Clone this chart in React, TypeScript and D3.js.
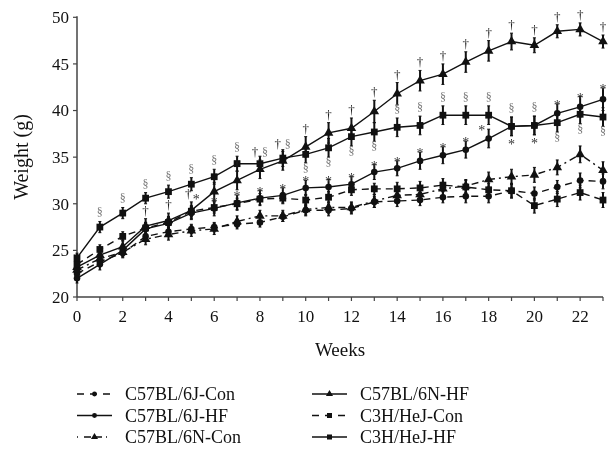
import * as d3 from "d3";

const weeks = d3.range(0, 24);

// mean body weight (g) per week
const b6jCon = [22.5, 23.8, 24.7, 26.5, 27.0, 27.3, 27.5, 27.8, 28.0, 28.6, 29.3, 29.3, 29.5, 30.2, 30.3, 30.4, 30.7, 30.8, 30.8, 31.4, 31.1, 31.8, 32.5, 32.4];
const b6jHF = [22.0, 23.5, 25.0, 27.3, 27.9, 29.0, 29.5, 30.1, 30.6, 30.9, 31.7, 31.8, 32.1, 33.4, 33.8, 34.6, 35.2, 35.8, 37.0, 38.3, 38.4, 39.7, 40.4, 41.2];
const b6nCon = [22.9, 24.1, 24.8, 26.2, 26.7, 27.1, 27.3, 28.1, 28.7, 28.7, 29.4, 29.6, 29.6, 30.3, 30.9, 31.0, 31.6, 31.9, 32.6, 32.9, 33.1, 33.9, 35.3, 33.6];
const b6nHF = [23.2, 24.5, 25.4, 27.6, 28.2, 29.3, 31.3, 32.5, 33.7, 34.6, 36.1, 37.6, 38.1, 39.9, 41.8, 43.2, 43.9, 45.2, 46.4, 47.4, 47.0, 48.5, 48.7, 47.4];
const c3hCon = [23.5, 25.1, 26.5, 27.4, 28.0, 29.2, 29.6, 30.0, 30.5, 30.6, 30.4, 30.7, 31.5, 31.6, 31.6, 31.7, 32.0, 31.8, 31.5, 31.4, 29.8, 30.5, 31.2, 30.4];
const c3hHF = [24.2, 27.5, 29.0, 30.6, 31.3, 32.1, 32.9, 34.3, 34.3, 34.9, 35.3, 36.0, 37.2, 37.7, 38.2, 38.4, 39.5, 39.5, 39.5, 38.3, 38.4, 38.7, 39.6, 39.3];

// error (SEM, g)
const b6jConErr = [0.5, 0.5, 0.5, 0.5, 0.5, 0.5, 0.5, 0.5, 0.5, 0.5, 0.6, 0.6, 0.6, 0.6, 0.6, 0.6, 0.6, 0.7, 0.7, 0.7, 0.7, 0.7, 0.8, 0.8];
const b6jHFErr = [0.5, 0.6, 0.6, 0.7, 0.7, 0.7, 0.8, 0.8, 0.8, 0.8, 0.8, 0.8, 0.8, 0.8, 0.8, 0.9, 0.9, 0.9, 1.0, 1.0, 1.0, 1.0, 1.1, 1.2];
const b6nConErr = [0.5, 0.5, 0.5, 0.6, 0.6, 0.6, 0.6, 0.6, 0.6, 0.6, 0.6, 0.6, 0.6, 0.7, 0.7, 0.7, 0.7, 0.7, 0.8, 0.8, 0.8, 0.8, 0.9, 0.9];
const b6nHFErr = [0.5, 0.6, 0.7, 0.8, 0.8, 0.9, 1.0, 1.0, 1.0, 1.0, 1.1, 1.1, 1.1, 1.2, 1.2, 1.1, 1.1, 1.1, 1.1, 0.9, 0.8, 0.7, 0.7, 0.7];
const c3hConErr = [0.5, 0.5, 0.5, 0.6, 0.6, 0.6, 0.6, 0.6, 0.6, 0.6, 0.6, 0.6, 0.6, 0.6, 0.7, 0.7, 0.7, 0.7, 0.7, 0.8, 0.8, 0.8, 0.8, 0.8];
const c3hHFErr = [0.5, 0.6, 0.6, 0.6, 0.7, 0.7, 0.8, 0.8, 0.8, 0.9, 0.9, 1.0, 1.0, 1.0, 1.0, 1.0, 1.0, 1.0, 1.0, 1.0, 1.0, 1.0, 1.0, 1.0];

const seriesNames = ["C57BL/6J-Con", "C57BL/6J-HF", "C57BL/6N-Con", "C57BL/6N-HF", "C3H/HeJ-Con", "C3H/HeJ-HF"];

// significance marks
const daggerWeeks = [3, 4, 5, 7, 8, 9, 10, 11, 12, 13, 14, 15, 16, 17, 18, 19, 20, 21, 22, 23]; // above 6N-HF
const sectionAbove = [1, 2, 3, 4, 5, 6, 7, 8, 9, 14, 15, 16, 17, 18, 19, 20]; // C3H-HF
const sectionBelow = [10, 11, 12, 13, 21, 22, 23];
const starAbove = [5, 6, 7, 8, 9, 10, 11, 12, 13, 14, 15, 16, 17, 18, 21, 22, 23]; // 6J-HF
const starBelow = [19, 20];

const yTicks = [20, 25, 30, 35, 40, 45, 50];
const xLabels = [0, 2, 4, 6, 8, 10, 12, 14, 16, 18, 20, 22];

const W = 611;
const H = 458;
const font = "'Liberation Serif', 'Times New Roman', serif";

const x = d3.scaleLinear().domain([0, 23]).range([77, 603]);
const y = d3.scaleLinear().domain([20, 50]).range([297, 17.3]);

const series = [
  { name: seriesNames[0], values: b6jCon, err: b6jConErr, symbol: d3.symbolCircle, size: 34, dash: "7,5" },
  { name: seriesNames[1], values: b6jHF, err: b6jHFErr, symbol: d3.symbolCircle, size: 34, dash: null },
  { name: seriesNames[2], values: b6nCon, err: b6nConErr, symbol: d3.symbolTriangle, size: 40, dash: "7,4,2,4" },
  { name: seriesNames[3], values: b6nHF, err: b6nHFErr, symbol: d3.symbolTriangle, size: 40, dash: null },
  { name: seriesNames[4], values: c3hCon, err: c3hConErr, symbol: d3.symbolSquare, size: 46, dash: "7,5" },
  { name: seriesNames[5], values: c3hHF, err: c3hHFErr, symbol: d3.symbolSquare, size: 46, dash: null },
];

const line = d3
  .line<number>()
  .x((_, i) => x(weeks[i]))
  .y((d) => y(d));

function Marks() {
  const out: JSX.Element[] = [];
  const b6nHFi = 3, c3hHFi = 5, b6jHFi = 1;
  daggerWeeks.forEach((w) => {
    const s = series[b6nHFi];
    const dx = w === 5 ? -3 : w === 8 || w === 9 ? -5 : 0;
    out.push(
      <text key={"d" + w} x={x(w) + dx} y={y(s.values[w] + s.err[w]) - 4} textAnchor="middle" fontSize={13} fill="#222">†</text>
    );
  });
  sectionAbove.forEach((w) => {
    const s = series[c3hHFi];
    const dx = w === 8 || w === 9 ? 5 : 0;
    const yy = w === 8 || w === 9 ? y(series[b6nHFi].values[w] + series[b6nHFi].err[w]) - 4 : y(s.values[w] + s.err[w]) - 5;
    out.push(
      <text key={"sa" + w} x={x(w) + dx} y={yy} textAnchor="middle" fontSize={12} fill="#777">§</text>
    );
  });
  sectionBelow.forEach((w) => {
    const s = series[c3hHFi];
    out.push(
      <text key={"sb" + w} x={x(w)} y={y(s.values[w] - s.err[w]) + 9} textAnchor="middle" fontSize={12} fill="#777">§</text>
    );
  });
  starAbove.forEach((w) => {
    const s = series[b6jHFi];
    const dx = w === 5 ? 5 : w === 18 ? -7 : 0;
    const yy = w === 5 ? y(series[b6nHFi].values[w] + series[b6nHFi].err[w]) + 2 : y(s.values[w] + s.err[w]) + 6;
    out.push(
      <text key={"st" + w} x={x(w) + dx} y={yy} textAnchor="middle" fontSize={14} fill="#333">*</text>
    );
  });
  starBelow.forEach((w) => {
    const s = series[b6jHFi];
    out.push(
      <text key={"sbb" + w} x={x(w)} y={y(s.values[w] - s.err[w]) + 13} textAnchor="middle" fontSize={14} fill="#333">*</text>
    );
  });
  return <g fontFamily={font}>{out}</g>;
}

export default function App() {
  const legendRows = [
    [series[0], series[3]],
    [series[1], series[4]],
    [series[2], series[5]],
  ];
  return (
    <svg width={W} height={H} style={{ position: "absolute", left: 0, top: 0, background: "#fff" }} fontFamily={font}>
      <defs>
        <filter id="gray" x="0" y="0" width="1" height="1">
          <feColorMatrix type="saturate" values="0" />
        </filter>
      </defs>
      <g filter="url(#gray)">
        <rect width={W} height={H} fill="#fff" />
        {/* axes */}
        <line x1={x(0)} x2={x(0)} y1={y(50) - 1} y2={y(20)} stroke="#444" strokeWidth={1.5} />
        <line x1={x(0)} x2={x(23)} y1={y(20)} y2={y(20)} stroke="#444" strokeWidth={1.5} />
        {yTicks.map((t) => (
          <g key={"y" + t}>
            <line x1={x(0) - 4} x2={x(0)} y1={y(t)} y2={y(t)} stroke="#444" strokeWidth={1.2} />
            <text x={x(0) - 8} y={y(t)} dy="0.35em" textAnchor="end" fontSize={17} fill="#111">{t}</text>
          </g>
        ))}
        {weeks.map((w) => (
          <line key={"xt" + w} x1={x(w)} x2={x(w)} y1={y(20)} y2={y(20) + 4} stroke="#444" strokeWidth={1.2} />
        ))}
        {xLabels.map((w) => (
          <text key={"xl" + w} x={x(w)} y={y(20) + 25} textAnchor="middle" fontSize={17} fill="#111">{w}</text>
        ))}
        <text x={340} y={356} textAnchor="middle" fontSize={19} fill="#111">Weeks</text>
        <text transform={`translate(28,157) rotate(-90)`} textAnchor="middle" fontSize={20} fill="#111">Weight (g)</text>

        {/* lines */}
        {series.map((s) => (
          <path key={"l" + s.name} d={line(s.values) ?? ""} fill="none" stroke="#111" strokeWidth={1.4} strokeDasharray={s.dash ?? undefined} />
        ))}
        {/* error bars */}
        {series.map((s) => (
          <g key={"e" + s.name} stroke="#111">
            {s.values.map((v, i) => (
              <g key={i}>
                <line x1={x(weeks[i])} x2={x(weeks[i])} y1={y(v + s.err[i])} y2={y(v - s.err[i])} strokeWidth={2} />
                <line x1={x(weeks[i]) - 1.5} x2={x(weeks[i]) + 1.5} y1={y(v + s.err[i])} y2={y(v + s.err[i])} strokeWidth={1} />
                <line x1={x(weeks[i]) - 1.5} x2={x(weeks[i]) + 1.5} y1={y(v - s.err[i])} y2={y(v - s.err[i])} strokeWidth={1} />
              </g>
            ))}
          </g>
        ))}
        {/* markers */}
        {series.map((s) => (
          <g key={"m" + s.name} fill="#111">
            {s.values.map((v, i) => (
              <path key={i} transform={`translate(${x(weeks[i])},${y(v)})`} d={d3.symbol().type(s.symbol).size(s.size)() ?? ""} />
            ))}
          </g>
        ))}
        <Marks />

        {/* legend */}
        {legendRows.map((row, r) =>
          row.map((s, c) => {
            const lx = c === 0 ? 77 : 312;
            const ly = 394 + r * 21.5;
            return (
              <g key={s.name}>
                <line x1={lx} x2={lx + 35} y1={ly} y2={ly} stroke="#111" strokeWidth={1.3} strokeDasharray={s.dash ? (s.dash === "7,4,2,4" ? "1,6,7,4,7,4" : "7,6") : undefined} />
                <path transform={`translate(${lx + 17.5},${ly})`} d={d3.symbol().type(s.symbol).size(s.size * 0.55)() ?? ""} fill="#111" />
                <text x={lx + 48} y={ly} dy="0.35em" fontSize={18} fill="#111">{s.name}</text>
              </g>
            );
          })
        )}
      </g>
    </svg>
  );
}
